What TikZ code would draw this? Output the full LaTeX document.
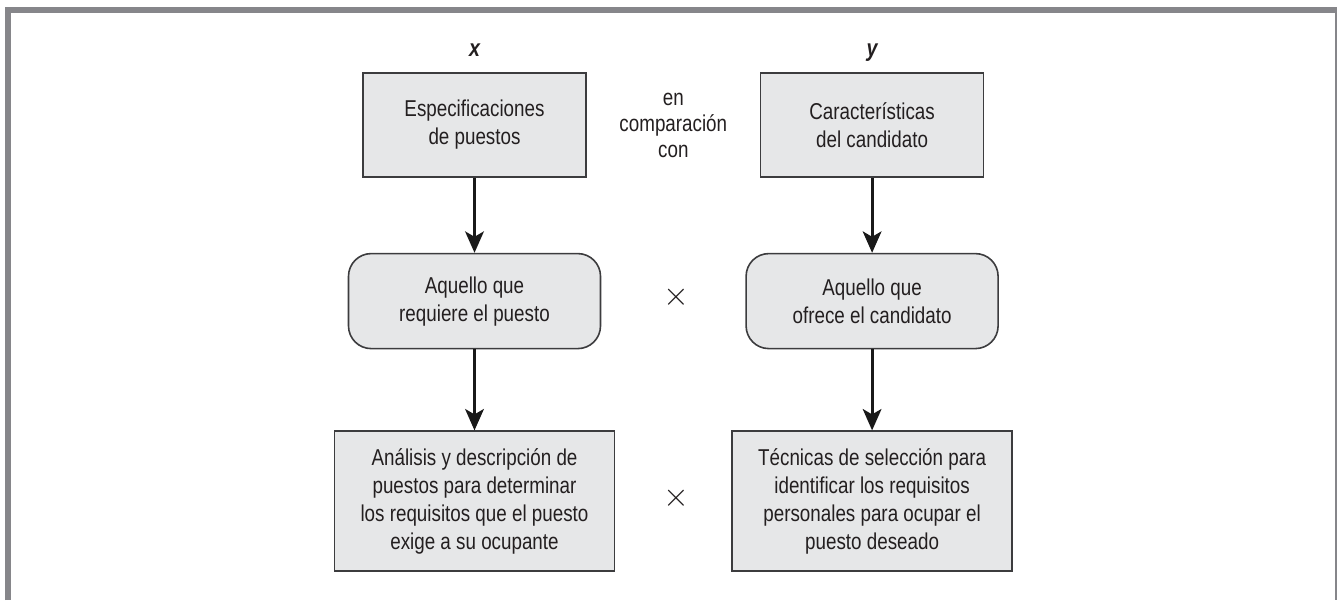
\documentclass[tikz,border=0pt]{standalone}
\usepackage{fontspec}
\setmainfont{Liberation Sans}[FakeStretch=0.82]
\usepackage{xcolor}
\usepackage{tikz}
\usetikzlibrary{arrows.meta, positioning, calc}

\definecolor{boxgray}{HTML}{E6E7E8}
\definecolor{edgegray}{HTML}{3C3C3E}
\definecolor{framegray}{HTML}{86868A}
\definecolor{inkgray}{HTML}{231F20}

\begin{document}
\begin{tikzpicture}[
  x=0.75pt, y=0.75pt,
  every node/.style={text=inkgray, font=\fontsize{17.2}{21}\selectfont},
  sqbox/.style={
    rectangle, draw=edgegray, fill=boxgray, line width=1.2pt,
    minimum width=167.25pt, minimum height=78pt, align=center
  },
  rbox/.style={
    rectangle, rounded corners=17pt,
    draw=edgegray, fill=boxgray, line width=1.2pt,
    minimum width=189pt, minimum height=71.25pt, align=center
  },
  bigbox/.style={
    rectangle, draw=edgegray, fill=boxgray, line width=1.2pt,
    minimum width=210pt, minimum height=105pt, align=center
  },
  lbl/.style={font=\fontsize{18}{20}\selectfont\bfseries\itshape, inner sep=0pt},
  mult/.style={font=\fontsize{27}{27}\selectfont, inner sep=0pt},
  arr/.style={-{Stealth[length=16pt, width=14pt, inset=4pt]}, line width=2.2pt, draw=black!90}
]

\useasboundingbox (0,0) rectangle (1337,600);

%% Outer frame (open at the bottom)
\draw[framegray, line width=4.5pt] (8,0) -- (8,590) -- (1337,590);
\draw[framegray, line width=1.2pt] (1336,590) -- (1336,0);

%% Top row: the two things compared
\node[sqbox] (spec) at (474.5,475) {Especificaciones\\de puestos};
\node[sqbox, right=129.75pt of spec] (carac) {Características\\del candidato};
\node[align=center, font=\fontsize{17.2}{19.5}\selectfont] (compara)
  at ($(spec)!0.5!(carac)$) {en\\comparación\\con};

%% Column headings
\node[lbl, above=12pt of spec, anchor=base]  (lblx) {x};
\node[lbl, above=12pt of carac, anchor=base] (lbly) {y};

%% Middle row
\node[rbox, below=56.25pt of spec]  (requiere) {Aquello que\\requiere el puesto};
\node[rbox, below=56.25pt of carac] (ofrece)   {Aquello que\\ofrece el candidato};
\node[mult] (mult1) at ($(requiere)!0.5!(ofrece)+(3,4)$) {$\times$};

%% Bottom row
\node[bigbox, below=60.75pt of requiere] (analisis)
  {Análisis y descripción de\\puestos para determinar\\los requisitos que el puesto\\exige a su ocupante};
\node[bigbox, below=60.75pt of ofrece] (tecnicas)
  {Técnicas de selección para\\identificar los requisitos\\personales para ocupar el\\puesto deseado};
\node[mult] (mult2) at ($(analisis)!0.5!(tecnicas)+(3,3)$) {$\times$};

%% Flow arrows
\draw[arr] (spec)     -- (requiere);
\draw[arr] (requiere) -- (analisis);
\draw[arr] (carac)    -- (ofrece);
\draw[arr] (ofrece)   -- (tecnicas);

\end{tikzpicture}
\end{document}
